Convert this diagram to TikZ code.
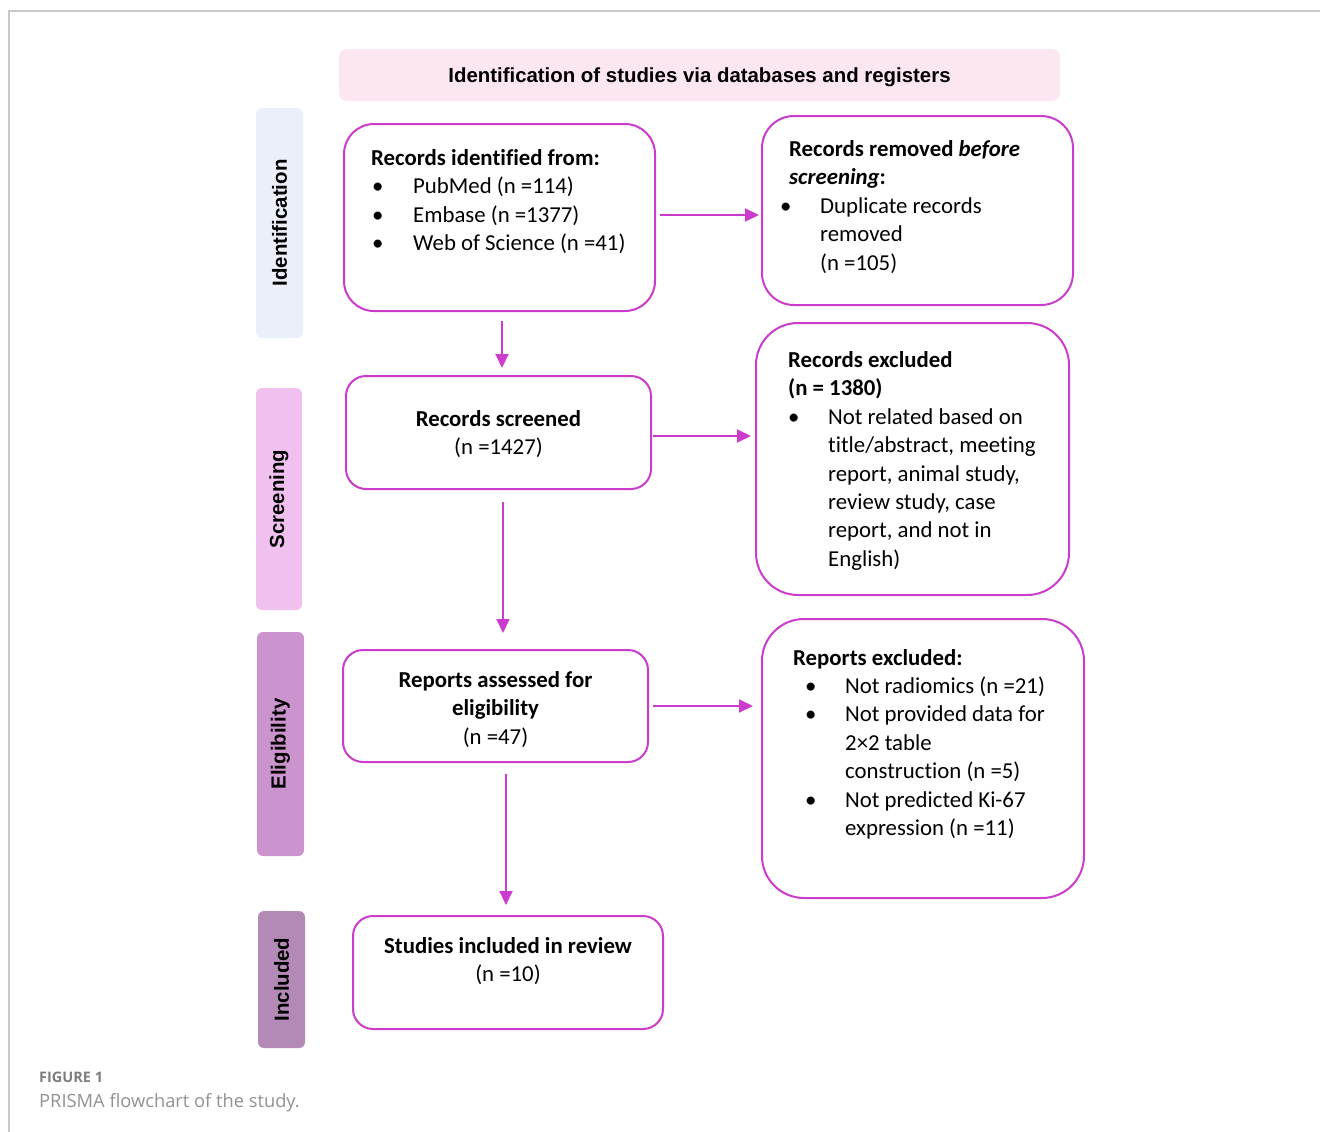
\documentclass[tikz,border=0pt]{standalone}
\usepackage{fontspec}
\setmainfont{Carlito}[Ligatures=NoCommon]
\newfontfamily\arialfont{Liberation Sans}
\newfontfamily\capfont{Open Sans}
\usetikzlibrary{arrows.meta}
\definecolor{mag}{RGB}{204,60,204}
\definecolor{framegray}{RGB}{200,200,200}
\definecolor{headpink}{RGB}{252,230,242}
\definecolor{idfill}{RGB}{235,239,249}
\definecolor{scfill}{RGB}{240,193,239}
\definecolor{elfill}{RGB}{204,148,207}
\definecolor{infill}{RGB}{179,138,182}
\definecolor{capgray}{RGB}{125,125,125}
\newcommand\blt[2]{\makebox[#2][l]{\hspace*{#1}\textbullet}}
\begin{document}
\begin{tikzpicture}[x=1pt,y=-1pt,
  box/.style={draw=mag, line width=2pt, fill=white, inner sep=0pt},
  txt/.style={inner sep=0pt, font=\fontsize{22.8}{28.4}\selectfont},
  arr/.style={draw=mag, line width=2pt, -{Triangle[length=14pt,width=13pt]}},
  side/.style={inner sep=0pt, rounded corners=6pt, rotate=90,
    font=\arialfont\bfseries\fontsize{20.4}{24}\selectfont}]
\useasboundingbox (0,0) rectangle (1320,1132);
\draw[framegray, line width=1.5pt] (9,1132) -- (9,11) -- (1320,11);

% header
\node[fill=headpink, rounded corners=8pt, minimum width=721pt, minimum height=52pt, inner sep=0pt,
  text height=19pt, text depth=4.3pt,
  font=\arialfont\bfseries\fontsize{20.4}{24}\selectfont] (head) at (699.5,75)
  {Identification of studies via databases and registers};

% side labels
\node[side, fill=idfill, minimum width=230pt, minimum height=47pt] (sid) at (279.5,223) {Identification};
\node[side, fill=scfill, minimum width=222pt, minimum height=46pt] (ssc) at (279,499) {Screening};
\node[side, fill=elfill, minimum width=224pt, minimum height=47pt] (sel) at (280.5,744) {Eligibility};
\node[side, fill=infill, minimum width=137pt, minimum height=47pt] (sin) at (281.5,979.5) {Included};

% boxes
\node[box, rounded corners=30pt, minimum width=311pt, minimum height=187pt] (b1) at (499.5,217.5) {};
\node[box, rounded corners=32pt, minimum width=311pt, minimum height=189pt] (b2) at (917.5,210.5) {};
\node[box, rounded corners=20pt, minimum width=305pt, minimum height=113pt] (b3) at (498.5,432.5) {};
\node[box, rounded corners=42pt, minimum width=313pt, minimum height=272pt] (b4) at (912.5,459) {};
\node[box, rounded corners=20pt, minimum width=305pt, minimum height=112pt] (b5) at (495.5,706) {};
\node[box, rounded corners=42pt, minimum width=322pt, minimum height=279pt] (b6) at (923,758.5) {};
\node[box, rounded corners=20pt, minimum width=310pt, minimum height=113pt] (b7) at (508,972.5) {};

% texts
\node[txt, anchor=base west] (t1) at (371,165.5) {\begin{tabular}[t]{@{}l@{}}
\textbf{Records identified from:}\\
\blt{1pt}{42pt}PubMed (n =114)\\
\blt{1pt}{42pt}Embase (n =1377)\\
\blt{1pt}{42pt}Web of Science (n =41)
\end{tabular}};

\node[txt, anchor=base west] (t2) at (789,156.5) {\begin{tabular}[t]{@{}l@{}}
\textbf{Records removed \textit{before}}\\
\textbf{\textit{screening}:}\\
\blt{-9pt}{31pt}Duplicate records\\
\hspace*{31pt}removed\\
\hspace*{31pt}(n =105)
\end{tabular}};

\node[txt, anchor=base] (t3) at (498.5,426.5) {\begin{tabular}[t]{@{}c@{}}
\textbf{Records screened}\\
(n =1427)
\end{tabular}};

\node[txt, anchor=base west] (t4) at (788,367.5) {\begin{tabular}[t]{@{}l@{}}
\textbf{Records excluded}\\
\textbf{(n = 1380)}\\
\blt{0pt}{40pt}Not related based on\\
\hspace*{40pt}title/abstract, meeting\\
\hspace*{40pt}report, animal study,\\
\hspace*{40pt}review study, case\\
\hspace*{40pt}report, and not in\\
\hspace*{40pt}English)
\end{tabular}};

\node[txt, anchor=base] (t5) at (495.5,687.5) {\begin{tabular}[t]{@{}c@{}}
\textbf{Reports assessed for}\\
\textbf{eligibility}\\
(n =47)
\end{tabular}};

\node[txt, anchor=base west] (t6) at (793,665) {\begin{tabular}[t]{@{}l@{}}
\textbf{Reports excluded:}\\
\blt{12pt}{52pt}Not radiomics (n =21)\\
\blt{12pt}{52pt}Not provided data for\\
\hspace*{52pt}2×2 table\\
\hspace*{52pt}construction (n =5)\\
\blt{12pt}{52pt}Not predicted Ki-67\\
\hspace*{52pt}expression (n =11)
\end{tabular}};

\node[txt, anchor=base] (t7) at (508,953.5) {\begin{tabular}[t]{@{}c@{}}
\textbf{Studies included in review}\\
(n =10)
\end{tabular}};

% arrows
\draw[arr, shorten <=4pt, shorten >=2pt] ([yshift=2.5pt]b1.east) -- ([yshift=2.5pt]b1.east -| b2.west);
\draw[arr, shorten <=9pt, shorten >=7pt] ([xshift=2.5pt]b1.south) -- ([xshift=2.5pt]b1.south |- b3.north);
\draw[arr, shorten <=1pt, shorten >=4pt] ([yshift=-3.5pt]b3.east) -- ([yshift=-3.5pt]b3.east -| b4.west);
\draw[arr, shorten <=12pt, shorten >=16pt] ([xshift=4.5pt]b3.south) -- ([xshift=4.5pt]b3.south |- b5.north);
\draw[arr, shorten <=4pt, shorten >=8pt] (b5.east) -- (b5.east -| b6.west);
\draw[arr, shorten <=11pt, shorten >=10pt] ([xshift=10.5pt]b5.south) -- ([xshift=10.5pt]b5.south |- b7.north);

% caption
\node[inner sep=0pt, anchor=base west, text=capgray, font=\capfont\bfseries\fontsize{14.5}{16}\selectfont] (cap1) at (39,1082) {FIGURE 1};
\node[inner sep=0pt, anchor=base west, text=capgray!85, font=\capfont\fontsize{18.3}{22}\selectfont] (cap2) at (39,1107) {PRISMA flowchart of the study.};
\end{tikzpicture}
\end{document}
